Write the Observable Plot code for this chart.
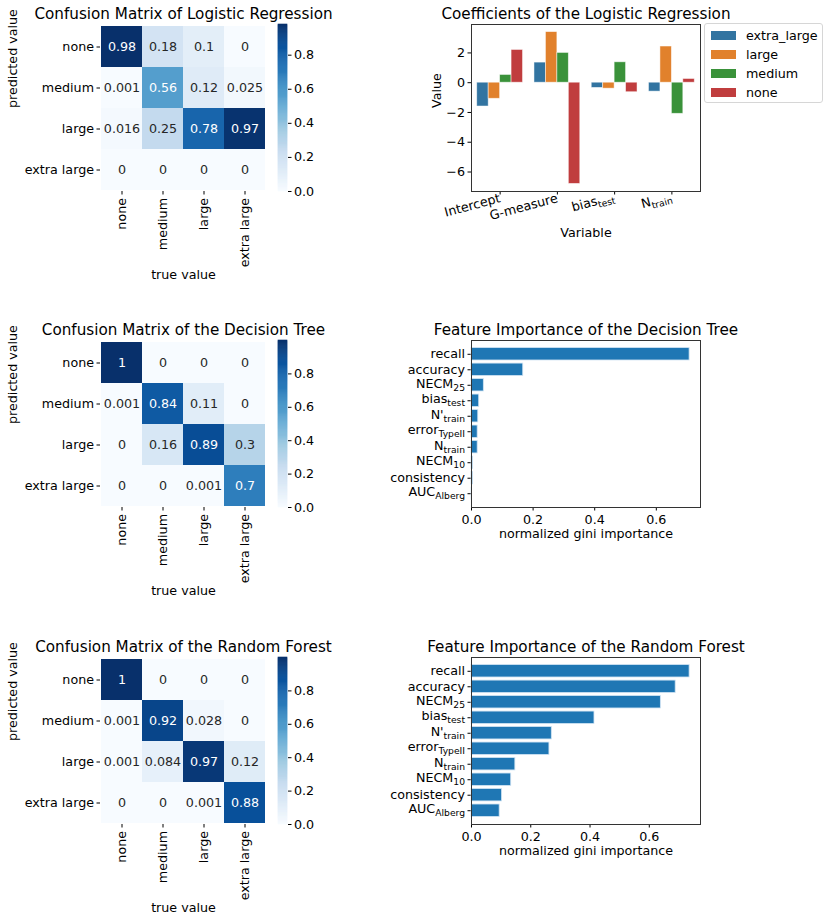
<!DOCTYPE html>
<html><head><meta charset="utf-8">
<script src="https://cdn.jsdelivr.net/npm/d3@7"></script>
<script src="https://cdn.jsdelivr.net/npm/@observablehq/plot@0.6"></script>
<style>
body{margin:0;background:#fff;}
#root{position:relative;width:830px;height:924px;font-family:"DejaVu Sans",sans-serif;overflow:hidden;}
#root svg{position:absolute;}
.legend{position:absolute;left:704px;top:23px;width:117px;height:78px;border:1px solid #d6d6d6;border-radius:3px;background:#fff;font-size:12.7px;color:#000;}
.legend .item{position:absolute;left:6px;height:19px;display:flex;align-items:center;}
.legend .sw{width:25px;height:9px;margin-right:10px;}
</style></head><body><div id="root"></div>
<script>
// ---------- data ----------
const classes = ["none", "medium", "large", "extra large"];
// rows = predicted value, columns = true value
const cmLogReg = [
  [0.98, 0.18, 0.1, 0],
  [0.001, 0.56, 0.12, 0.025],
  [0.016, 0.25, 0.78, 0.97],
  [0, 0, 0, 0]
];
const cmTree = [
  [1, 0, 0, 0],
  [0.001, 0.84, 0.11, 0],
  [0, 0.16, 0.89, 0.3],
  [0, 0, 0.001, 0.7]
];
const cmForest = [
  [1, 0, 0, 0],
  [0.001, 0.92, 0.028, 0],
  [0.001, 0.084, 0.97, 0.12],
  [0, 0, 0.001, 0.88]
];
const coefVars = ["Intercept", "G-measure", "bias_{test}", "N_{train}"];
const coefHues = ["extra_large", "large", "medium", "none"];
const coefExtraLarge = [-1.6, 1.35, -0.35, -0.6];
const coefLarge = [-1.08, 3.4, -0.4, 2.43];
const coefMedium = [0.52, 2.0, 1.37, -2.09];
const coefNone = [2.2, -6.8, -0.64, 0.25];
const hueColors = ["#3274a1", "#e1812c", "#3a923a", "#c03d3e"];
const features = ["recall", "accuracy", "NECM_{25}", "bias_{test}", "N'_{train}", "error_{TypeII}", "N_{train}", "NECM_{10}", "consistency", "AUC_{Alberg}"];
const impTree = [0.708, 0.168, 0.040, 0.025, 0.022, 0.020, 0.020, 0.005, 0.005, 0.001];
const impForest = [0.736, 0.689, 0.639, 0.415, 0.271, 0.263, 0.148, 0.134, 0.103, 0.095];
const blues = ["#f7fbff","#deebf7","#c6dbef","#9ecae1","#6baed6","#4292c6","#2171b5","#08519c","#08306b"];

// ---------- helpers ----------
const root = document.getElementById("root");
const FS = 12.7, TFS = 15.2;
const baseStyle = {fontFamily: "DejaVu Sans", fontSize: FS + "px", color: "#000", background: "transparent", overflow: "visible"};
function place(svg, left, top) { svg.style.left = left + "px"; svg.style.top = top + "px"; root.append(svg); richify(svg); }
function richify(svg) {
  svg.querySelectorAll("text").forEach(t => {
    const ts = t.querySelectorAll("tspan");
    const target = ts.length === 1 ? ts[0] : t;
    const s = target.textContent;
    const m = s.match(/^(.*)_\{(.*)\}(.*)$/);
    if (!m) return;
    target.textContent = "";
    const NS = "http://www.w3.org/2000/svg";
    const a = document.createElementNS(NS, "tspan"); a.textContent = m[1]; a.setAttribute("dy", "-1.8px"); target.append(a);
    const b = document.createElementNS(NS, "tspan"); b.textContent = m[2];
    b.setAttribute("dy", "3.2px"); b.style.fontSize = "9.2px"; target.append(b);
    if (m[3]) { const c = document.createElementNS(NS, "tspan"); c.textContent = m[3]; c.setAttribute("dy", "-3.2px"); target.append(c); }
  });
}
function colorScale(vmax) {
  return {type: "linear", domain: blues.map((_, k) => k / (blues.length - 1) * vmax), range: blues, interpolate: "rgb"};
}
const fmt2g = d3.format(".2~g");

function confusion(title, matrix, top) {
  const data = [];
  matrix.forEach((row, i) => row.forEach((v, j) => data.push({pred: classes[i], truth: classes[j], v})));
  const vmax = d3.max(data, d => d.v);
  const light = d => d.v / vmax > 0.45;
  const svg = Plot.plot({
    width: 300, height: 300, marginLeft: 100, marginRight: 34, marginTop: 24, marginBottom: 109,
    style: baseStyle,
    x: {domain: classes, padding: 0, label: null, tickSize: 3.5, tickPadding: 3, tickRotate: -90},
    y: {domain: classes, padding: 0, label: null, tickSize: 3.5, tickPadding: 3},
    color: colorScale(vmax),
    marks: [
      Plot.cell(data, {x: "truth", y: "pred", fill: "v", inset: 0}),
      Plot.text(data, {filter: d => !light(d), x: "truth", y: "pred", text: d => fmt2g(d.v), fill: "#262626", fontSize: FS}),
      Plot.text(data, {filter: light, x: "truth", y: "pred", text: d => fmt2g(d.v), fill: "white", fontSize: FS}),
      Plot.text([title], {text: d => d, frameAnchor: "top", dy: -6, lineAnchor: "bottom", fontSize: TFS}),
      Plot.text(["true value"], {text: d => d, frameAnchor: "bottom", dy: 87, fontSize: FS}),
      Plot.text(["predicted value"], {text: d => d, frameAnchor: "left", dx: -88, rotate: -90, fontSize: FS})
    ]
  });
  place(svg, 0, top);
  // colorbar
  const steps = d3.range(0, 160).map(k => ({y1: k / 160 * vmax, y2: (k + 1) / 160 * vmax}));
  const cb = Plot.plot({
    width: 60, height: 300, marginLeft: 8, marginRight: 43, marginTop: 24, marginBottom: 109,
    style: baseStyle,
    x: {domain: [0, 1], axis: null},
    y: {domain: [0, vmax], axis: "right", ticks: [0, 0.2, 0.4, 0.6, 0.8], tickFormat: ".1f", tickSize: 3.5, tickPadding: 3, label: null},
    color: colorScale(vmax),
    marks: [
      Plot.rect(steps, {x1: 0, x2: 1, y1: "y1", y2: "y2", fill: d => (d.y1 + d.y2) / 2, stroke: d => (d.y1 + d.y2) / 2, strokeWidth: 0.6})
    ]
  });
  place(cb, 270, top);
}

function importance(title, values, top) {
  const data = features.map((f, i) => ({f, i, v: values[i]}));
  const xmax = d3.max(values) * 1.05;
  const svg = Plot.plot({
    width: 350, height: 300, marginLeft: 101, marginRight: 20, marginTop: 24, marginBottom: 109,
    style: baseStyle,
    x: {domain: [0, xmax], ticks: [0, 0.2, 0.4, 0.6], tickFormat: ".1f", tickSize: 3.5, tickPadding: 3.5, label: null},
    y: {domain: [9.89, -0.89], ticks: d3.range(features.length), tickFormat: i => features[i], tickSize: 3.5, tickPadding: 3, label: null},
    marks: [
      Plot.rect(data, {x1: 0, x2: "v", y1: d => d.i - 0.4, y2: d => d.i + 0.4, fill: "#1f77b4", stroke: "#cfe3f3", strokeWidth: 0.8}),
      Plot.frame({stroke: "#333"}),
      Plot.text([title], {text: d => d, frameAnchor: "top", dy: -6, lineAnchor: "bottom", fontSize: TFS}),
      Plot.text(["normalized gini importance"], {text: d => d, frameAnchor: "bottom", dy: 30, fontSize: FS})
    ]
  });
  place(svg, 370, top);
}

function coefficients(top) {
  const series = [coefExtraLarge, coefLarge, coefMedium, coefNone];
  const data = [];
  series.forEach((vals, k) => vals.forEach((v, i) => data.push({hue: coefHues[k], k, i, v})));
  const svg = Plot.plot({
    width: 350, height: 300, marginLeft: 101, marginRight: 20, marginTop: 24, marginBottom: 109,
    style: baseStyle,
    x: {domain: [-0.5, 3.5], ticks: [0, 1, 2, 3], tickFormat: i => coefVars[i], tickRotate: -15, tickSize: 3.5, tickPadding: 3, label: null},
    y: {domain: [-7.31, 3.91], ticks: [-6, -4, -2, 0, 2], tickSize: 3.5, tickPadding: 3, label: null},
    color: {type: "ordinal", domain: coefHues, range: hueColors},
    marks: [
      Plot.rect(data, {x1: d => d.i - 0.4 + d.k * 0.2, x2: d => d.i - 0.4 + (d.k + 1) * 0.2, y1: 0, y2: "v", fill: "hue", stroke: "white", strokeOpacity: 0.6, strokeWidth: 0.8}),
      Plot.frame({stroke: "#333"}),
      Plot.text(["Coefficients of the Logistic Regression"], {text: d => d, frameAnchor: "top", dy: -6, lineAnchor: "bottom", fontSize: TFS}),
      Plot.text(["Variable"], {text: d => d, frameAnchor: "bottom", dy: 45, fontSize: FS}),
      Plot.text(["Value"], {text: d => d, frameAnchor: "left", dx: -35, rotate: -90, fontSize: FS})
    ]
  });
  place(svg, 370, top);
  const lg = document.createElement("div");
  lg.className = "legend";
  coefHues.forEach((h, k) => {
    const it = document.createElement("div");
    it.className = "item"; it.style.top = (1.5 + k * 19) + "px";
    const sw = document.createElement("span"); sw.className = "sw"; sw.style.background = hueColors[k];
    const tx = document.createElement("span"); tx.textContent = h;
    it.append(sw, tx); lg.append(it);
  });
  root.append(lg);
}

confusion("Confusion Matrix of Logistic Regression", cmLogReg, 0);
coefficients(0);
confusion("Confusion Matrix of the Decision Tree", cmTree, 316);
importance("Feature Importance of the Decision Tree", impTree, 316);
confusion("Confusion Matrix of the Random Forest", cmForest, 633);
importance("Feature Importance of the Random Forest", impForest, 633);
</script></body></html>
